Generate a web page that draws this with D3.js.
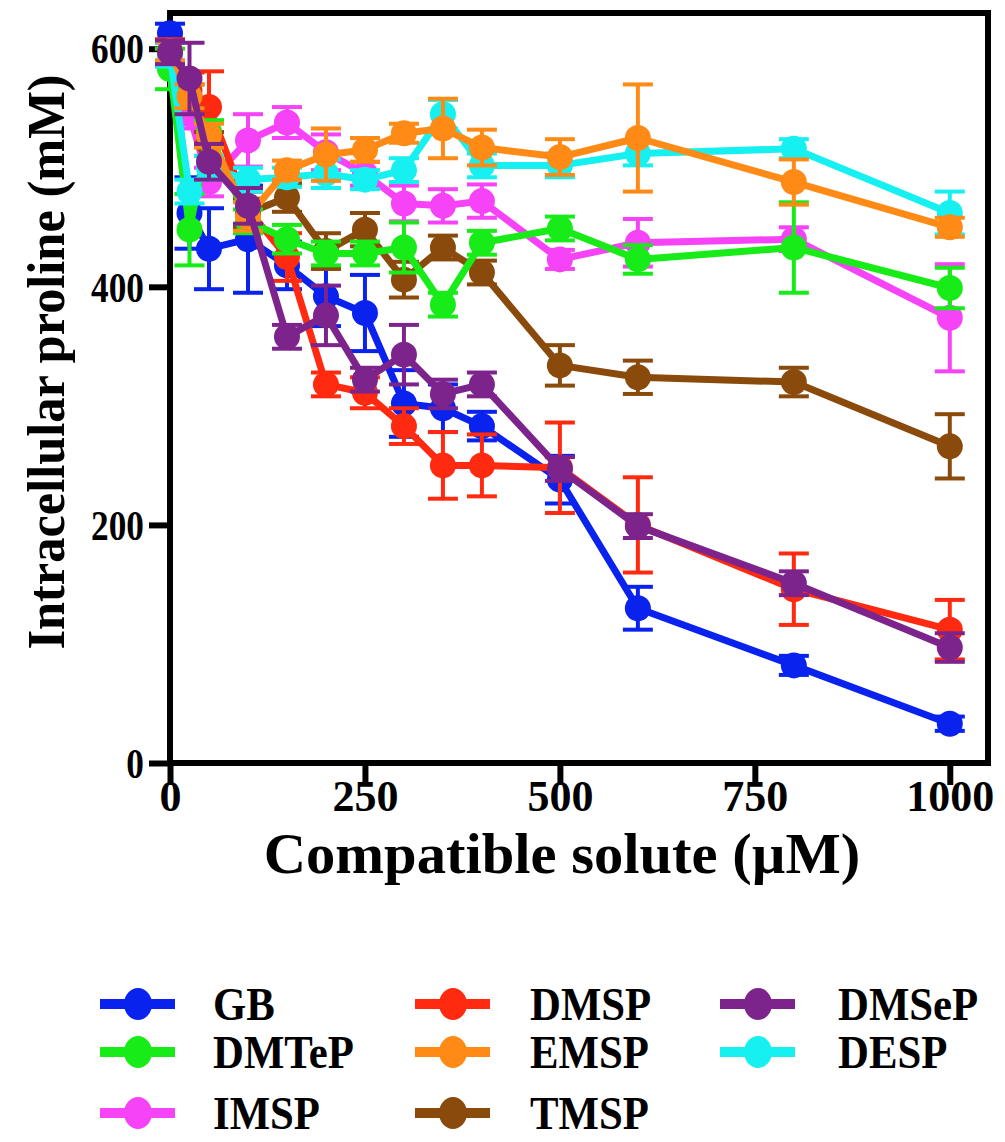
<!DOCTYPE html>
<html>
<head>
<meta charset="utf-8">
<script src="https://cdn.jsdelivr.net/npm/d3@7"></script>
<style>
  body { margin: 0; background: #fff; }
  svg text { font-family: "Liberation Serif", "Times New Roman", serif; font-weight: bold; fill: #000; }
</style>
</head>
<body>
<svg id="chart" width="1005" height="1142"></svg>
<script>
// x values (compatible solute, uM)
var doses = [0, 25, 50, 100, 150, 200, 250, 300, 350, 400, 500, 600, 800, 1000];

// means (intracellular proline, mM) and error bars
var gbMean     = [613, 462, 432, 440, 418, 392, 378, 302, 298, 283, 238, 130, 82, 33];
var gbErr      = [8, 30, 34, 45, 20, 25, 32, 28, 20, 12, 20, 18, 8, 6];
var dmspMean   = [598, 565, 551, 465, 425, 318, 311, 283, 250, 250, 248, 200, 146, 112];
var dmspErr    = [10, 15, 30, 15, 20, 10, 13, 15, 28, 26, 38, 40, 30, 25];
var dmsepMean  = [597, 575, 505, 468, 358, 376, 322, 343, 310, 318, 247, 199, 151, 97];
var dmsepErr   = [10, 30, 15, 15, 10, 25, 10, 25, 12, 10, 10, 10, 10, 12];
var dmtepMean  = [583, 448, 530, 455, 440, 428, 428, 433, 385, 437, 449, 423, 433, 399];
var dmtepErr   = [17, 30, 10, 10, 12, 10, 10, 21, 10, 10, 10, 12, 38, 17];
var emspMean   = [598, 560, 527, 459, 498, 511, 515, 529, 533, 517, 509, 525, 488, 450];
var emspErr    = [8, 10, 10, 12, 8, 22, 10, 8, 25, 15, 15, 45, 19, 8];
var despMean   = [595, 480, 500, 490, 492, 495, 490, 498, 545, 502, 502, 512, 516, 462];
var despErr    = [10, 10, 10, 10, 8, 12, 8, 10, 12, 10, 10, 10, 8, 18];
var imspMean   = [595, 545, 488, 523, 538, 513, 495, 470, 468, 472, 423, 437, 440, 374];
var imspErr    = [10, 12, 12, 22, 13, 15, 10, 15, 14, 14, 8, 20, 10, 45];
var tmspMean   = [598, 560, 520, 462, 475, 430, 448, 406, 433, 412, 334, 324, 320, 266];
var tmspErr    = [8, 10, 10, 12, 12, 15, 14, 15, 10, 10, 17, 14, 12, 27];

var xTicks = [0, 250, 500, 750, 1000];
var yTicks = [0, 200, 400, 600];

var series = [
    {name: "GB",    color: "#0a22ee", mean: gbMean,    err: gbErr},
    {name: "IMSP",  color: "#f743f7", mean: imspMean,  err: imspErr},
    {name: "DMSP",  color: "#ff2a10", mean: dmspMean,  err: dmspErr},
    {name: "TMSP",  color: "#8a4a0c", mean: tmspMean,  err: tmspErr},
    {name: "DMTeP", color: "#18ec18", mean: dmtepMean, err: dmtepErr},
    {name: "DESP",  color: "#16f0f0", mean: despMean,  err: despErr},
    {name: "EMSP",  color: "#ff8a16", mean: emspMean,  err: emspErr},
    {name: "DMSeP", color: "#7d248c", mean: dmsepMean, err: dmsepErr}
];

// legend is laid out column by column
var legendCols = [["GB", "DMTeP", "IMSP"], ["DMSP", "EMSP", "TMSP"], ["DMSeP", "DESP"]];

var svg = d3.select("#chart");

var x = d3.scaleLinear().domain([0, 1049]).range([170, 988]);
var y = d3.scaleLinear().domain([0, 630]).range([763, 13]);

var ySqueeze = 0.84;

// frame
svg.append("rect")
    .attr("x", x(0)).attr("y", y(630))
    .attr("width", x(1049) - x(0)).attr("height", y(0) - y(630))
    .style("fill", "none").style("stroke", "#000").style("stroke-width", 6);

// axes
var yAxis = svg.append("g")
    .attr("transform", "translate(" + x(0) + ",0)")
    .call(d3.axisLeft(y).tickValues(yTicks).tickSize(21).tickFormat(d3.format("d")));
var xAxis = svg.append("g")
    .attr("transform", "translate(0," + y(0) + ")")
    .call(d3.axisBottom(x).tickValues(xTicks).tickSize(22).tickFormat(d3.format("d")));

[yAxis, xAxis].forEach(function(ax) {
    ax.select(".domain").remove();
    ax.selectAll(".tick line").style("stroke", "#000").style("stroke-width", 6);
    ax.selectAll(".tick text").style("font-family", null);
});
yAxis.selectAll(".tick text")
    .style("font-size", "42px")
    .attr("x", -26 / ySqueeze).attr("dy", "0.34em")
    .attr("transform", "scale(" + ySqueeze + ",1)");
xAxis.selectAll(".tick text")
    .style("font-size", "44px")
    .attr("y", 17).attr("dy", "0.71em");

// data
series.forEach(function(s) {
    var pts = doses.map(function(d, i) { return {x: d, y: s.mean[i], e: s.err[i]}; });
    var g = svg.append("g").attr("class", "data");

    var bars = g.selectAll("g.err").data(pts).enter().append("g").attr("class", "err")
        .style("stroke", s.color).style("stroke-width", 4);
    bars.append("line")
        .attr("x1", function(d) { return x(d.x); }).attr("x2", function(d) { return x(d.x); })
        .attr("y1", function(d) { return y(d.y + d.e); }).attr("y2", function(d) { return y(d.y - d.e); });
    bars.append("line")
        .attr("x1", function(d) { return x(d.x) - 15; }).attr("x2", function(d) { return x(d.x) + 15; })
        .attr("y1", function(d) { return y(d.y + d.e); }).attr("y2", function(d) { return y(d.y + d.e); });
    bars.append("line")
        .attr("x1", function(d) { return x(d.x) - 15; }).attr("x2", function(d) { return x(d.x) + 15; })
        .attr("y1", function(d) { return y(d.y - d.e); }).attr("y2", function(d) { return y(d.y - d.e); });

    g.append("path")
        .datum(pts)
        .attr("d", d3.line().x(function(d) { return x(d.x); }).y(function(d) { return y(d.y); }))
        .style("fill", "none").style("stroke", s.color).style("stroke-width", 7)
        .style("stroke-linejoin", "round");

    g.selectAll("circle").data(pts).enter().append("circle")
        .attr("cx", function(d) { return x(d.x); })
        .attr("cy", function(d) { return y(d.y); })
        .attr("r", 13)
        .style("fill", s.color);
});

// axis titles
svg.append("text")
    .attr("transform", "translate(562,873) scale(1.01,1)")
    .attr("text-anchor", "middle")
    .style("font-size", "58px")
    .text("Compatible solute (\u00b5M)");

svg.append("text")
    .attr("transform", "translate(64,362) rotate(-90) scale(0.97,1)")
    .attr("text-anchor", "middle")
    .style("font-size", "52px")
    .text("Intracellular proline (mM)");

// legend
var colX = [100, 415, 720];
var textX = [113, 115, 118];
var rowY = [1004, 1052, 1113];
var colorOf = {};
series.forEach(function(s) { colorOf[s.name] = s.color; });

legendCols.forEach(function(col, ci) {
    col.forEach(function(name, ri) {
        var lg = svg.append("g").attr("transform", "translate(" + colX[ci] + "," + rowY[ri] + ")");
        lg.append("line").attr("x1", 0).attr("x2", 75).attr("y1", 0).attr("y2", 0)
            .style("stroke", colorOf[name]).style("stroke-width", 10);
        lg.append("ellipse").attr("cx", 38).attr("cy", 0).attr("rx", 14).attr("ry", 16)
            .style("fill", colorOf[name]);
        lg.append("text")
            .attr("transform", "translate(" + textX[ci] + ",16) scale(0.93,1)")
            .style("font-size", "46px")
            .text(name);
    });
});
</script>
</body>
</html>
